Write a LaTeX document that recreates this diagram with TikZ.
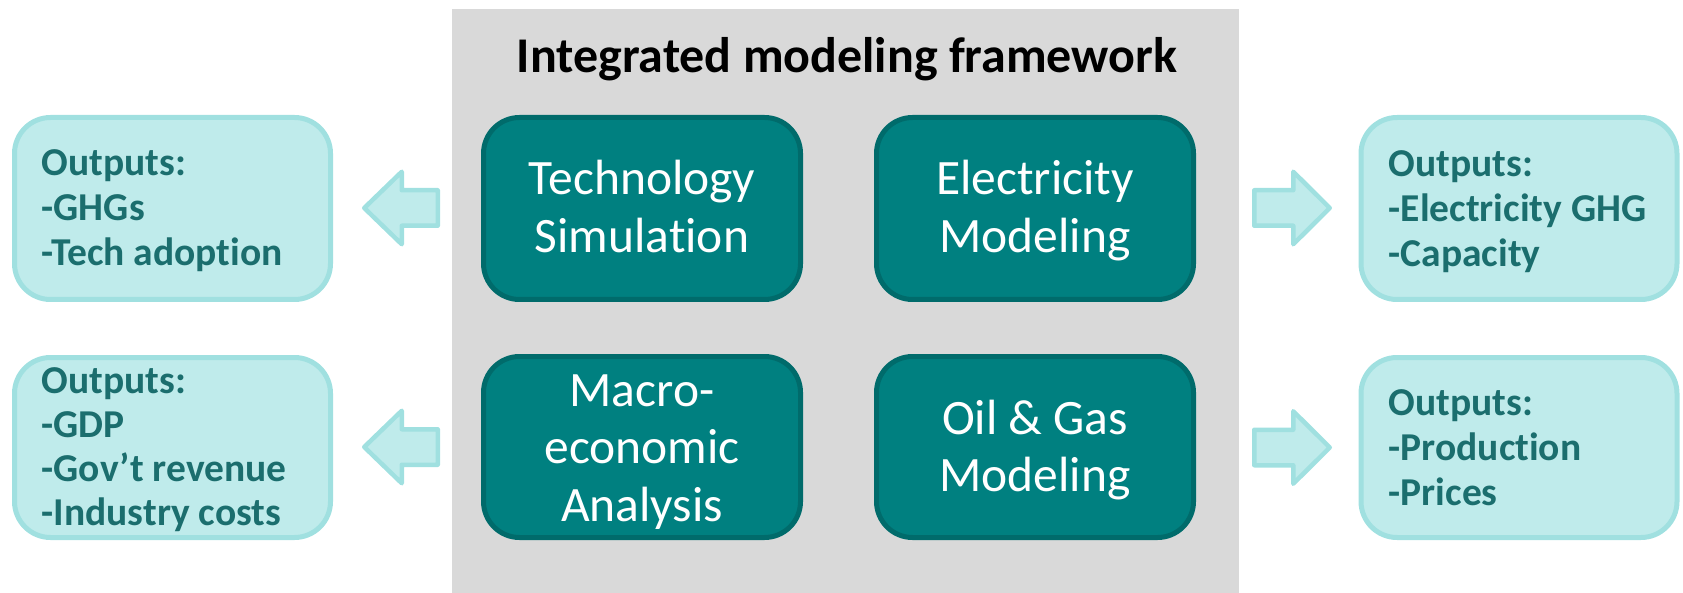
\documentclass[tikz,border=0pt]{standalone}
\usepackage{fontspec}
\setmainfont{Carlito}[Ligatures=NoCommon]

\definecolor{panelgray}{HTML}{D9D9D9}
\definecolor{tealfill}{HTML}{008080}
\definecolor{tealedge}{HTML}{006B6B}
\definecolor{palefill}{HTML}{BFEBEB}
\definecolor{paleedge}{HTML}{A0E0E0}
\definecolor{outink}{HTML}{1B6E6E}

\begin{document}
\begin{tikzpicture}[x=1pt,y=-1pt,
  modelbox/.style={draw=tealedge, fill=tealfill, line width=5pt, rounded corners=36pt,
    minimum width=317pt, inner sep=0pt, outer sep=0pt},
  outbox/.style={draw=paleedge, fill=palefill, line width=5pt, rounded corners=36pt,
    minimum width=316pt, inner sep=0pt, outer sep=0pt},
  modeltext/.style={text=white, align=center, font=\fontsize{49.5}{57.5}\selectfont, inner sep=0pt},
  outtext/.style={text=outink, align=left, font=\bfseries\fontsize{39.5}{45}\selectfont,
    inner sep=0pt, anchor=north west},
  outtextfour/.style={outtext, font=\bfseries\fontsize{39.5}{44}\selectfont},
  blockarrow/.style={draw=paleedge, fill=palefill, line width=4.5pt, line join=round}
]
\useasboundingbox (0,0) rectangle (1683,593);

% framework panel and its heading
\node[fill=panelgray, minimum width=787pt, minimum height=584pt, inner sep=0pt,
  anchor=north west] (frame) at (452,9) {};
\node[font=\bfseries\fontsize{50}{58}\selectfont, anchor=base, inner sep=0pt]
  (title) at (847,72.7) {Integrated modeling framework};

% the four models
\node[modelbox, minimum height=182pt] (tech) at (642,208.5) {};
\node[modelbox, minimum height=182pt] (elec) at (1035,208.5) {};
\node[modelbox, minimum height=181pt] (macro) at (642,447) {};
\node[modelbox, minimum height=181pt] (oil) at (1035,447) {};

\node[modeltext] (techtxt) at (642,212.25) {\strut Technology\\\strut Simulation};
\node[modeltext] (electxt) at (1035,212.25) {\strut Electricity\\\strut Modeling};
\node[modeltext] (macrotxt) at (642,452) {\strut Macro-\\\strut economic\\\strut Analysis};
\node[modeltext] (oiltxt) at (1035,451.5) {\strut Oil \& Gas\\\strut Modeling};

% output boxes
\node[outbox, minimum height=182pt] (outtl) at (172.5,208.5) {};
\node[outbox, minimum height=180pt] (outbl) at (172.5,447.5) {};
\node[outbox, minimum height=182pt] (outtr) at (1519,208.5) {};
\node[outbox, minimum height=180pt] (outbr) at (1519,447.5) {};

\node[outtext] (outtltxt) at (41.5,143.5)
  {\strut Outputs:\\\strut -GHGs\\\strut -Tech adoption};
\node[outtextfour] (outbltxt) at (41.5,362.5)
  {\strut Outputs:\\\strut -GDP\\\strut -Gov’t revenue\\\strut -Industry costs};
\node[outtext] (outtrtxt) at (1388.5,145)
  {\strut Outputs:\\\strut -Electricity GHG\\\strut -Capacity};
\node[outtext] (outbrtxt) at (1388.5,383.5)
  {\strut Outputs:\\\strut -Production\\\strut -Prices};

% block arrows leading out of the framework, drawn from their tips
\coordinate (tiptl) at (364.25,208);
\coordinate (tipbl) at (364.25,447);
\coordinate (tiptr) at (1329.75,208);
\coordinate (tipbr) at (1329.75,447.5);

\foreach \t in {tiptl,tipbl}
  \draw[blockarrow] (\t) -- ++(37.5,-36.25) -- ++(0,18.5) -- ++(36,0) -- ++(0,35.5)
    -- ++(-36,0) -- ++(0,18.5) -- cycle;
\foreach \t in {tiptr,tipbr}
  \draw[blockarrow] (\t) -- ++(-36.5,-36.25) -- ++(0,18.5) -- ++(-39,0) -- ++(0,35.5)
    -- ++(39,0) -- ++(0,18.5) -- cycle;
\end{tikzpicture}
\end{document}
